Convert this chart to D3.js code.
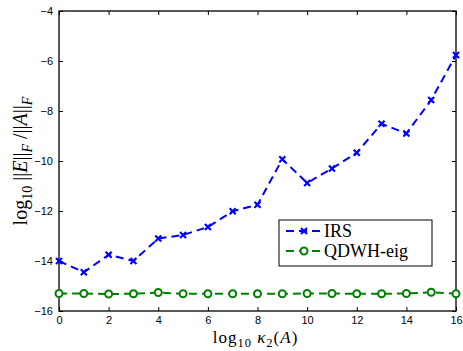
<!DOCTYPE html>
<html>
<head>
<meta charset="utf-8">
<script src="https://cdn.jsdelivr.net/npm/d3@7"></script>
<style>
  body { margin: 0; background: #fff; }
  svg { display: block; }
</style>
</head>
<body>
<div class="chart"></div>
<script>
const kappaExp = [0, 1, 2, 3, 4, 5, 6, 7, 8, 9, 10, 11, 12, 13, 14, 15, 16];
const irsErr = [-14.0, -14.45, -13.75, -14.0, -13.1, -12.96, -12.64, -12.01, -11.75, -9.93,
  -10.88, -10.3, -9.67, -8.51, -8.9, -7.56, -5.76];
const qdwhErr = [-15.3, -15.3, -15.32, -15.31, -15.26, -15.31, -15.31, -15.31, -15.31, -15.31,
  -15.3, -15.3, -15.31, -15.31, -15.3, -15.25, -15.31];
const xTicks = [0, 2, 4, 6, 8, 10, 12, 14, 16];
const yTicks = [-16, -14, -12, -10, -8, -6, -4];
const seriesNames = ["IRS", "QDWH-eig"];

const W = 463, H = 351;
const margin = { top: 11, right: 7, bottom: 40, left: 59 };
const width = W - margin.left - margin.right;
const height = H - margin.top - margin.bottom;

const svgRoot = d3.select(".chart").append("svg").attr("width", W).attr("height", H);
const svg = svgRoot.append("g").attr("transform", `translate(${margin.left},${margin.top})`);

const xScale = d3.scaleLinear().domain([0, 16]).range([0, width]);
const yScale = d3.scaleLinear().domain([-16, -4]).range([height, 0]);

const tickFont = "Liberation Sans, Arial, sans-serif";
const mathFont = "Liberation Serif, Times New Roman, serif";

// Axes (inward ticks, MATLAB box)
function styleAxis(g) {
  g.select(".domain").remove();
  g.selectAll("line").attr("stroke", "#000").attr("stroke-width", 1);
  g.selectAll("text").attr("font-family", tickFont).attr("font-size", "11px").attr("fill", "#000");
}
svg.append("g").attr("transform", `translate(0,${height})`)
  .call(d3.axisBottom(xScale).tickValues(xTicks).tickSizeInner(-4).tickSizeOuter(0).tickPadding(5))
  .call(styleAxis);
svg.append("g")
  .call(d3.axisLeft(yScale).tickValues(yTicks).tickSizeInner(-4).tickSizeOuter(0).tickPadding(6)
    .tickFormat((d) => String(d).replace("-", "\u2212")))
  .call(styleAxis);
svg.append("g")
  .call(d3.axisTop(xScale).tickValues(xTicks).tickSizeInner(-4).tickSizeOuter(0).tickFormat(""))
  .call(styleAxis);
svg.append("g").attr("transform", `translate(${width},0)`)
  .call(d3.axisRight(yScale).tickValues(yTicks).tickSizeInner(-4).tickSizeOuter(0).tickFormat(""))
  .call(styleAxis);

svg.append("rect").attr("width", width).attr("height", height)
  .attr("fill", "none").attr("stroke", "#000").attr("stroke-width", 1.3);

// Series
const line = d3.line().x((d) => xScale(d[0])).y((d) => yScale(d[1]));
const irsData = kappaExp.map((k, i) => [k, irsErr[i]]);
const qdwhData = kappaExp.map((k, i) => [k, qdwhErr[i]]);

svg.append("path").datum(qdwhData).attr("d", line).attr("fill", "none")
  .attr("stroke", "#008000").attr("stroke-width", 2).attr("stroke-dasharray", "8 5");
svg.selectAll("circle.qdwh").data(qdwhData).enter().append("circle")
  .attr("class", "qdwh").attr("cx", (d) => xScale(d[0])).attr("cy", (d) => yScale(d[1]))
  .attr("r", 3.5).attr("fill", "#fff").attr("stroke", "#008000").attr("stroke-width", 2);

svg.append("path").datum(irsData).attr("d", line).attr("fill", "none")
  .attr("stroke", "#0000ff").attr("stroke-width", 2).attr("stroke-dasharray", "8 5");
function cross(g, cx, cy, s, color) {
  g.append("path").attr("d", `M${cx - s},${cy - s}L${cx + s},${cy + s}M${cx - s},${cy + s}L${cx + s},${cy - s}`)
    .attr("stroke", color).attr("stroke-width", 2.2).attr("fill", "none");
}
irsData.forEach((d) => cross(svg, xScale(d[0]), yScale(d[1]), 3, "#0000ff"));

// Legend
const leg = svgRoot.append("g").attr("transform", "translate(279,220)");
leg.append("rect").attr("width", 153).attr("height", 46)
  .attr("fill", "#fff").attr("stroke", "#000").attr("stroke-width", 1);
const legColors = ["#0000ff", "#008000"];
seriesNames.forEach((name, i) => {
  const y = 11 + i * 20;
  leg.append("line").attr("x1", 7).attr("x2", 43).attr("y1", y).attr("y2", y)
    .attr("stroke", legColors[i]).attr("stroke-width", 2).attr("stroke-dasharray", "8 5");
  if (i === 0) cross(leg, 25, y, 3, legColors[i]);
  else leg.append("circle").attr("cx", 25).attr("cy", y).attr("r", 3.5)
    .attr("fill", "#fff").attr("stroke", legColors[i]).attr("stroke-width", 2);
  leg.append("text").attr("x", 45).attr("y", y + 6)
    .attr("font-family", mathFont).attr("font-size", "18px").text(name);
});

// X label: log10 κ2(A)
const xl = svgRoot.append("text").attr("x", margin.left + width / 2 - 2).attr("y", 343)
  .attr("text-anchor", "middle").attr("font-family", mathFont).attr("font-size", "17px")
  .attr("letter-spacing", "1px");
xl.append("tspan").text("log");
xl.append("tspan").attr("dy", 4).attr("font-size", "12.5px").text("10");
xl.append("tspan").attr("dy", -4).attr("font-style", "italic").text(" \u03BA");
xl.append("tspan").attr("dy", 4).attr("font-size", "12.5px").text("2");
xl.append("tspan").attr("dy", -4).text("(");
xl.append("tspan").attr("font-style", "italic").text("A");
xl.append("tspan").text(")");

// Y label: log10 ||E||F / ||A||F
const yl = svgRoot.append("text")
  .attr("transform", `translate(27,${margin.top + height / 2}) rotate(-90)`)
  .attr("text-anchor", "middle").attr("font-family", mathFont).attr("font-size", "20px");
yl.append("tspan").text("log");
yl.append("tspan").attr("dy", 5).attr("font-size", "14px").text("10");
yl.append("tspan").attr("dy", -5).text(" ||");
yl.append("tspan").attr("font-style", "italic").text("E");
yl.append("tspan").text("||");
yl.append("tspan").attr("dy", 5).attr("font-size", "14px").attr("font-style", "italic").text("F");
yl.append("tspan").attr("dy", -5).text(" /||");
yl.append("tspan").attr("font-style", "italic").text("A");
yl.append("tspan").text("||");
yl.append("tspan").attr("dy", 5).attr("font-size", "14px").attr("font-style", "italic").text("F");
</script>
</body>
</html>
